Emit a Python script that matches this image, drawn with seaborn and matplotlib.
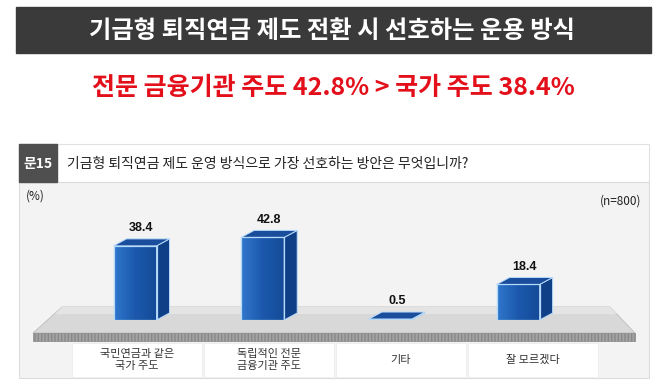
import matplotlib
matplotlib.use("Agg")
import matplotlib.pyplot as plt
import seaborn as sns
import numpy as np
from matplotlib.patches import Polygon, Rectangle
from matplotlib.colors import LinearSegmentedColormap

# ---- data ----
title = "기금형 퇴직연금 제도 전환 시 선호하는 운용 방식"
headline = "전문 금융기관 주도 42.8% > 국가 주도 38.4%"
q_no = "문15"
question = "기금형 퇴직연금 제도 운영 방식으로 가장 선호하는 방안은 무엇입니까?"
categories = ["국민연금과 같은\n국가 주도", "독립적인 전문\n금융기관 주도", "기타", "잘 모르겠다"]
values = [38.4, 42.8, 0.5, 18.4]
unit_label = "(%)"
n_label = "(n=800)"

W, H = 658, 382
sns.set_theme(style="white")
plt.rcParams['font.family'] = ['Noto Sans CJK KR', 'DejaVu Sans']

fig = plt.figure(figsize=(W / 100, H / 100), dpi=100)
fig.patch.set_facecolor("white")


def fx(px):
    return px / W


def fy(py):
    return 1 - py / H


def frect(x0, y0, x1, y1, z=-5, **kw):
    r = Rectangle((fx(x0), fy(y1)), (x1 - x0) / W, (y1 - y0) / H,
                  transform=fig.transFigure, zorder=z, **kw)
    fig.add_artist(r)
    return r


def fpoly(pts, z=-4, **kw):
    p = Polygon([(fx(a), fy(b)) for a, b in pts], closed=True,
                transform=fig.transFigure, zorder=z, **kw)
    fig.add_artist(p)
    return p


# title bar
frect(16, 7, 651, 53, color="#3a3a3a")
fig.text(fx(332), fy(31), title, ha="center", va="center", color="white",
         fontsize=17.5, fontweight="bold")

# headline
fig.text(fx(333), fy(88), headline, ha="center", va="center", color="#e3101b",
         fontsize=18, fontweight="bold")

# question header
frect(19, 144, 649, 182, fc="white", ec="#e2e2e2", lw=0.8)
frect(19, 144, 57, 182, color="#4f4f4f", z=-4)
fig.text(fx(38), fy(164), q_no, ha="center", va="center", color="white",
         fontsize=10, fontweight="bold")
fig.text(fx(67), fy(164), question, ha="left", va="center", color="#222222",
         fontsize=10)

# chart panel
frect(19, 182, 649, 378, fc="#f3f3f3", ec="#dcdcdc", lw=0.8)
fig.text(fx(26), fy(196), unit_label, ha="left", va="center", color="#222222", fontsize=8.5)
fig.text(fx(641), fy(201), n_label, ha="right", va="center", color="#222222", fontsize=8.5)

# floor
fpoly([(62, 307), (610, 307), (635, 333), (33, 333)], fc="#d8d8d8", ec="#bdbdbd", lw=0.6)
fpoly([(62, 307), (610, 307), (617, 314), (55, 314)], fc="#e4e4e4", ec="none", z=-3.9)
fpoly([(33, 333), (635, 333), (635, 341), (33, 341)], fc="#a4a4a4", ec="#888888",
      lw=0.5, hatch="|||||", z=-3.8)

# ---- bars ----
px_per_unit = 1.93
spacing = 127.7
ax = fig.add_axes([fx(135 - spacing / 2), fy(320), 4 * spacing / W, 138 / H])
ax.set_zorder(5)
ax.patch.set_alpha(0)

sns.barplot(x=categories, y=values, ax=ax, width=43 / spacing, color="#1f5cb0",
            edgecolor="#b5dafa", linewidth=0.9, saturation=1)

ymax = 138 / px_per_unit
dx = 13 / spacing
dy = 7 / px_per_unit
cmap = LinearSegmentedColormap.from_list("front", ["#3077cc", "#1b58ac", "#154b98"])
grad = np.linspace(0, 1, 64).reshape(1, -1)

for p, v in zip(list(ax.patches), values):
    x0, w, h = p.get_x(), p.get_width(), p.get_height()
    im = ax.imshow(grad, extent=[x0, x0 + w, 0, h], cmap=cmap, aspect="auto",
                   zorder=p.get_zorder() + 0.1, interpolation="bicubic")
    im.set_clip_path(p)
    ax.add_patch(Polygon([(x0 + w, 0), (x0 + w + dx, dy), (x0 + w + dx, h + dy), (x0 + w, h)],
                         closed=True, fc="#0f3f86", ec="#b5dafa", lw=0.7,
                         zorder=p.get_zorder() + 0.2))
    ax.add_patch(Polygon([(x0, h), (x0 + w, h), (x0 + w + dx, h + dy), (x0 + dx, h + dy)],
                         closed=True, fc="#1a4d9b", ec="#b5dafa", lw=0.7,
                         zorder=p.get_zorder() + 0.2))
    ax.add_patch(Rectangle((x0, 0), w, h, fc="none", ec="#b5dafa", lw=0.9,
                           zorder=p.get_zorder() + 0.3))
    ax.annotate(f"{v}", (x0 + (w + dx) / 2, h + dy), xytext=(0, 3.5),
                textcoords="offset points", ha="center", va="bottom",
                fontsize=9, fontweight="bold", color="#111111",
                family=["Liberation Sans Narrow", "Liberation Sans", "DejaVu Sans"])

ax.set_ylim(0, ymax)
ax.set_xlim(-0.5, len(categories) - 0.5)
ax.set_xticks([])
ax.set_yticks([])
ax.set_xlabel("")
ax.set_ylabel("")
for s in ax.spines.values():
    s.set_visible(False)

# category label row (its own axes, same categories)
lab_sp = 132
lax = fig.add_axes([fx(137 - lab_sp / 2), fy(377), 4 * lab_sp / W, 34 / H])
lax.set_zorder(4)
lax.patch.set_alpha(0)
lax.set_xlim(-0.5, len(categories) - 0.5)
lax.set_ylim(0, 1)
lax.axis("off")
for i, cat in enumerate(categories):
    lax.add_patch(Rectangle((i - 0.49, 0), 0.98, 1, fc="white", ec="#ececec", lw=0.6))
    lax.text(i, 0.5, cat, ha="center", va="center", fontsize=8,
             color="#333333", linespacing=1.25)

fig.savefig("out.png", dpi=100)
